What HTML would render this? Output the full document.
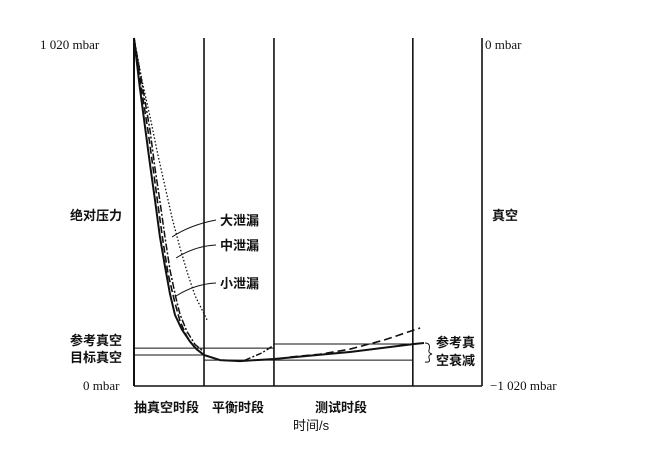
<!DOCTYPE html>
<html><head><meta charset="utf-8"><style>
body{margin:0;background:#fff}
svg text{font-family:"Liberation Serif","Noto Serif CJK SC",serif;fill:#111}
.cj{font-family:"Liberation Sans","Noto Sans CJK SC",sans-serif;font-weight:bold;font-size:13px}
</style></head><body>
<svg id="chart" width="671" height="450" viewBox="0 0 671 450">
<g id="frame" stroke="#111" stroke-width="1.6" fill="none"></g>
<g id="series" fill="none" stroke="#111"></g>
<text x="40" y="49" font-size="13">1 020 mbar</text>
<text x="485" y="49" font-size="13">0 mbar</text>
<text x="83" y="390" font-size="13">0 mbar</text>
<text x="490" y="390" font-size="13">−1 020 mbar</text>
<text class="cj" x="70" y="220">绝对压力</text>
<text class="cj" x="492" y="220">真空</text>
<text class="cj" x="70" y="345">参考真空</text>
<text class="cj" x="70" y="362">目标真空</text>
<text class="cj" x="134" y="412">抽真空时段</text>
<text class="cj" x="212" y="412">平衡时段</text>
<text class="cj" x="315" y="412">测试时段</text>
<text class="cj" x="293" y="430" style="font-weight:normal">时间/s</text>
<text class="cj" x="220" y="225">大泄漏</text>
<text class="cj" x="220" y="250">中泄漏</text>
<text class="cj" x="220" y="288">小泄漏</text>
<text class="cj" x="436" y="347">参考真</text>
<text class="cj" x="436" y="365">空衰减</text>
<g stroke="#111" stroke-width="1" fill="none">
<path d="M172 237 Q190 225 216 220"/>
<path d="M176 258 Q195 246 216 245"/>
<path d="M176 296 Q195 284 216 283"/>
<path d="M425 343 Q431 343 429 350 Q428 353 432 354 Q428 355 429 358 Q431 363 425 362"/>
</g>
</svg>
<script>
const phaseTimes=[0,10.06,20.11,40.06,50];
const refVacuum=111, targetVacuum=91, lowLine=76, upperLine=123;
const solidT=[0,0.8,1.58,2.3,3.02,3.7,4.45,5.17,5.89,6.9,8.05,9.0,10.06,12.36,15.23,20.11,31.18,40.23,41.67];
const solidP=[1020,880,760,650,545,440,350,270,208,165,130,108,91,76,73,79,100,123,126];
const smallT=[0,1.0,2.01,2.8,3.45,4.2,4.89,5.8,6.61,7.6,8.76,10.06];
const smallP=[1020,880,748,630,530,420,330,250,190,145,111,91];
const medT=[0,1.2,2.30,3.0,3.74,4.5,5.17,6.0,6.61,7.6,8.76,10.06];
const medP=[1020,880,750,640,540,430,340,260,210,160,122,100];
const largeT=[0,1.2,2.30,3.4,4.45,5.5,6.61,7.7,8.76,10.49];
const largeP=[1020,890,790,680,585,490,405,330,265,194];
const stabT=[15.95,18.39,20.11];
const stabP=[76,97,120];
const testT=[22.4,26.7,31.0,36.0,41.1];
const testP=[85,93,108,135,170];
const X=t=>134+t*6.96, Y=p=>386-p*348/1020;
const NS="http://www.w3.org/2000/svg";
const frame=document.getElementById('frame'), series=document.getElementById('series');
function line(g,x1,y1,x2,y2,w,name){const l=document.createElementNS(NS,'line');l.setAttribute('x1',x1);l.setAttribute('y1',y1);l.setAttribute('x2',x2);l.setAttribute('y2',y2);if(w)l.setAttribute('stroke-width',w);


g.appendChild(l);}
phaseTimes.forEach((t,i)=>line(frame,X(t),38,X(t),Y(0),i==0?2:1.6,'phase-divider'));
line(frame,X(0),Y(0),X(50),Y(0),1.6,'x-axis');
line(frame,X(0),Y(refVacuum),X(phaseTimes[2]),Y(refVacuum),1,'reference-vacuum-line');
line(frame,X(0),Y(targetVacuum),X(phaseTimes[1]),Y(targetVacuum),1,'target-vacuum-line');
line(frame,X(phaseTimes[1]),Y(lowLine),X(phaseTimes[3]),Y(lowLine),1,'lower-limit-line');
line(frame,X(phaseTimes[2]),Y(upperLine),X(phaseTimes[3]),Y(upperLine),1,'upper-limit-line');
function curve(T,P,dash,w,name){let d='';T.forEach((t,i)=>{d+=(i?' L':'M')+X(t).toFixed(1)+' '+Y(P[i]).toFixed(1)});
const p=document.createElementNS(NS,'path');p.setAttribute('d',d);p.setAttribute('stroke-width',w);if(dash)p.setAttribute('stroke-dasharray',dash);p.setAttribute('stroke-linejoin','round');


series.appendChild(p);}
curve(largeT,largeP,'1.5 2',1.3,'large-leak-curve');
curve(medT,medP,'7 2 2 2',1.5,'medium-leak-curve');
curve(smallT,smallP,'7 3',1.6,'small-leak-curve');
curve(stabT,stabP,'6 2 2 2',1.4,'stabilization-leak-curve');
curve(testT,testP,'8 4',1.6,'test-leak-curve');
curve(solidT,solidP,null,2,'no-leak-curve');
</script>
</body></html>
